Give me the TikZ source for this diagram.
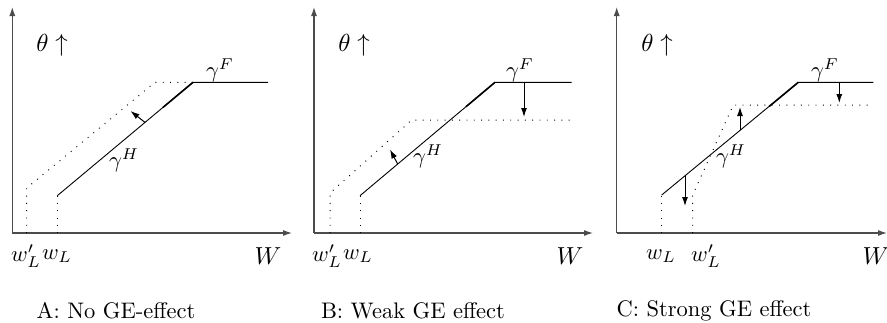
\documentclass[tikz,border=0pt]{standalone}
\usetikzlibrary{arrows.meta}
\begin{document}
\begin{tikzpicture}[x=1pt,y=-1pt,
  every node/.style={font=\fontsize{10}{12}\selectfont, inner sep=0pt, scale=2.25},
  big/.style={font=\fontsize{11.2}{13}\selectfont},
  bigw/.style={font=\fontsize{11}{13}\selectfont},
  axis/.style={draw=black!70, line width=1.1pt, -{Latex[length=9pt,width=6pt]}},
  curve/.style={draw=black, line width=0.9pt},
  over/.style={draw=black, line width=1.6pt},
  dots/.style={draw=black, line width=1pt, dash pattern=on 0.9pt off 6.4pt},
  shift arrow/.style={draw=black, line width=1pt, -{Latex[length=9pt,width=6pt]}}]
\useasboundingbox (0,0) rectangle (887,322);

% ---------------- Panel A ----------------
\coordinate (aO) at (12.3,233);
\coordinate (aY) at (12.3,7);
\coordinate (aX) at (292,233);
\draw[axis] (aO) -- (aY);
\draw[axis] (aO) -- (aX);
\coordinate (aS1) at (57.3,195.7);
\coordinate (aS2) at (193,82.3);
\coordinate (aS3) at (268,82.3);
\draw[curve] (aS1) -- (aS2) -- (aS3);
\draw[over] (163,107.4) -- (aS2);
\coordinate (aD0) at (26.7,233);
\coordinate (aD1) at (26.7,188);
\coordinate (aD2) at (155,82.3);
\draw[dots] (aD0) -- (aD1) -- (aD2) -- (aS2);
\coordinate (aV0) at (57.3,233);
\draw[dots] (aV0) -- (aS1);
\coordinate (aA1) at (145,122.4);
\coordinate (aA2) at (130.5,111);
\draw[shift arrow] (aA1) -- (aA2);
\node[big] (aTh) at (52,45) {$\theta\uparrow$};
\node (aGH) at (124,160) {$\gamma^H$};
\node (aGF) at (220,70) {$\gamma^F$};
\node (aWLp) at (26,256) {$w_L'$};
\node (aWL) at (57,256) {$w_L$};
\node[bigw] (aW) at (268,256) {$W$};
\node (aCap) at (116,311) {A: No GE-effect};

% ---------------- Panel B ----------------
\coordinate (bO) at (314,233);
\coordinate (bY) at (314,7);
\coordinate (bX) at (593,233);
\draw[axis] (bO) -- (bY);
\draw[axis] (bO) -- (bX);
\coordinate (bS1) at (360,195.7);
\coordinate (bS2) at (495,82.3);
\coordinate (bS3) at (571.7,82.3);
\draw[curve] (bS1) -- (bS2) -- (bS3);
\draw[over] (466,106.7) -- (bS2);
\coordinate (bD0) at (330,233);
\coordinate (bD1) at (330,193);
\coordinate (bD2) at (411.7,120);
\coordinate (bD3) at (571.7,120);
\draw[dots] (bD0) -- (bD1) -- (bD2) -- (bD3);
\coordinate (bV0) at (360,233);
\draw[dots] (bV0) -- (bS1);
\coordinate (bA1) at (397.7,164);
\coordinate (bA2) at (390,149.5);
\draw[shift arrow] (bA1) -- (bA2);
\coordinate (bB1) at (524,82.3);
\coordinate (bB2) at (524,117);
\draw[shift arrow] (bB1) -- (bB2);
\node[big] (bTh) at (354,45) {$\theta\uparrow$};
\node (bGH) at (428,156) {$\gamma^H$};
\node (bGF) at (520,70) {$\gamma^F$};
\node (bWLp) at (327,256) {$w_L'$};
\node (bWL) at (358,256) {$w_L$};
\node[bigw] (bW) at (570,256) {$W$};
\node (bCap) at (413,311) {B: Weak GE effect};

% ---------------- Panel C ----------------
\coordinate (cO) at (616.7,233);
\coordinate (cY) at (616.7,7);
\coordinate (cX) at (887,233);
\draw[axis] (cO) -- (cY);
\draw[axis] (cO) -- (cX);
\coordinate (cS1) at (661.7,195);
\coordinate (cS2) at (798.3,82.3);
\coordinate (cS3) at (873.3,82.3);
\draw[curve] (cS1) -- (cS2) -- (cS3);
\draw[over] (769,106.6) -- (cS2);
\coordinate (cD0) at (692.7,233);
\coordinate (cD1) at (692.7,195);
\coordinate (cD2) at (733.3,105);
\coordinate (cD3) at (873.3,105);
\draw[dots] (cD0) -- (cD1) -- (cD2) -- (cD3);
\coordinate (cV0) at (661.7,233);
\draw[dots] (cV0) -- (cS1);
\coordinate (cA1) at (685,175.8);
\coordinate (cA2) at (685,206);
\draw[shift arrow] (cA1) -- (cA2);
\coordinate (cB1) at (740,130.4);
\coordinate (cB2) at (740,107);
\draw[shift arrow] (cB1) -- (cB2);
\coordinate (cC1) at (839.3,82.3);
\coordinate (cC2) at (839.3,103);
\draw[shift arrow] (cC1) -- (cC2);
\node[big] (cTh) at (657,45) {$\theta\uparrow$};
\node (cGH) at (731,156) {$\gamma^H$};
\node (cGF) at (825,70) {$\gamma^F$};
\node (cWL) at (661,256) {$w_L$};
\node (cWLp) at (706,256) {$w_L'$};
\node[bigw] (cW) at (876,256) {$W$};
\node (cCap) at (714,311) {C: Strong GE effect};
\end{tikzpicture}
\end{document}
